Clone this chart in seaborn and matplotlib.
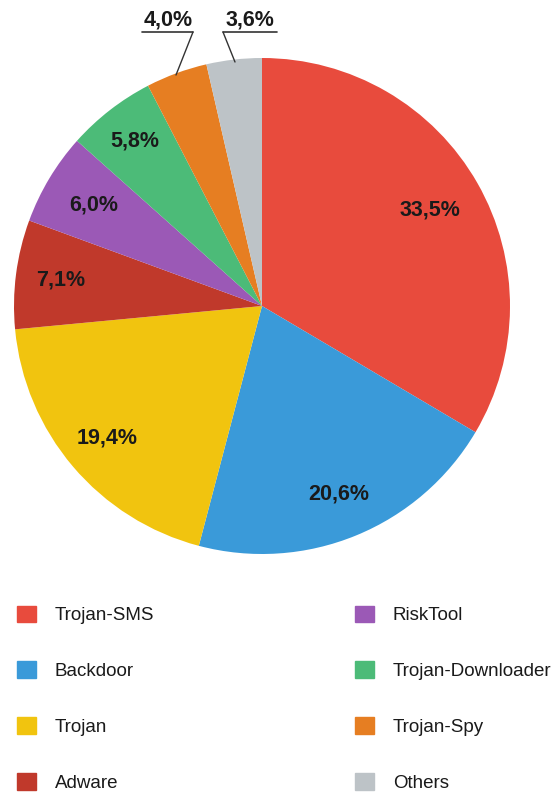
import matplotlib
matplotlib.use("Agg")
import matplotlib.pyplot as plt
import matplotlib.patches as mpatches
import numpy as np
import seaborn as sns

# data
categories = ["Trojan-SMS", "Backdoor", "Trojan", "Adware",
              "RiskTool", "Trojan-Downloader", "Trojan-Spy", "Others"]
shares = [33.5, 20.6, 19.4, 7.1, 6.0, 5.8, 4.0, 3.6]
hex_colors = ["#E84B3D", "#3A9AD9", "#F1C40F", "#C0392B",
              "#9B59B6", "#4CBB78", "#E67E22", "#BDC3C7"]

sns.set_theme(style="white")
plt.rcParams["font.family"] = ["Liberation Sans", "DejaVu Sans"]
palette = sns.color_palette(hex_colors)

fig = plt.figure(figsize=(5.53, 7.94), dpi=100)
W, H = 553, 794
cx, cy, R = 262, 306, 248          # pie centre / radius in px
lim = 1.25
side = 2 * lim * R
ax = fig.add_axes([(cx - side / 2) / W, 1 - (cy + side / 2) / H, side / W, side / H])

wedges, _ = ax.pie(shares, colors=palette, startangle=90, counterclock=False,
                   radius=1, wedgeprops=dict(linewidth=0))
ax.set_xlim(-lim, lim)
ax.set_ylim(-lim, lim)
ax.set_aspect("equal")
ax.axis("off")

def fmt(v):
    return f"{v:.1f}".replace(".", ",") + "%"

dist = [0.78, 0.82, 0.82, 0.82, 0.79, 0.84]
for w, v, d in zip(wedges[:6], shares[:6], dist):
    ang = np.deg2rad((w.theta1 + w.theta2) / 2)
    ax.text(d * np.cos(ang), d * np.sin(ang), fmt(v), ha="center", va="center",
            fontsize=15.5, fontweight="bold", color="#1a1a1a")

# outside labels with leader lines (px -> data)
def px(x, y):
    return ((x - cx) / R, (cy - y) / R)

outside = [(shares[6], (168, 20), (142, 193), (193, 32), (176, 75)),
           (shares[7], (250, 20), (223, 277), (223, 32), (235, 62))]
for v, tpos, ul, p0, p1 in outside:
    tx, ty = px(*tpos)
    ax.text(tx, ty, fmt(v), ha="center", va="center", fontsize=15.5,
            fontweight="bold", color="#1a1a1a")
    a, b = px(ul[0], p0[1]), px(ul[1], p0[1])
    ax.plot([a[0], b[0]], [a[1], b[1]], color="#333333", lw=1.2, clip_on=False)
    s, e = px(*p0), px(*p1)
    ax.plot([s[0], e[0]], [s[1], e[1]], color="#333333", lw=1.0, clip_on=False)

handles = [mpatches.Patch(color=c, label=l) for c, l in zip(palette, categories)]
fig.legend(handles=handles, ncol=2, loc="upper left",
           bbox_to_anchor=(17 / W, 1 - 605.5 / H), frameon=False,
           fontsize=13.5, handlelength=1.01, handleheight=1.01,
           handletextpad=1.01, labelspacing=1.97, columnspacing=10.7,
           borderaxespad=0, borderpad=0, labelcolor="#1a1a1a")

fig.savefig("out.png", dpi=100, facecolor="white")
